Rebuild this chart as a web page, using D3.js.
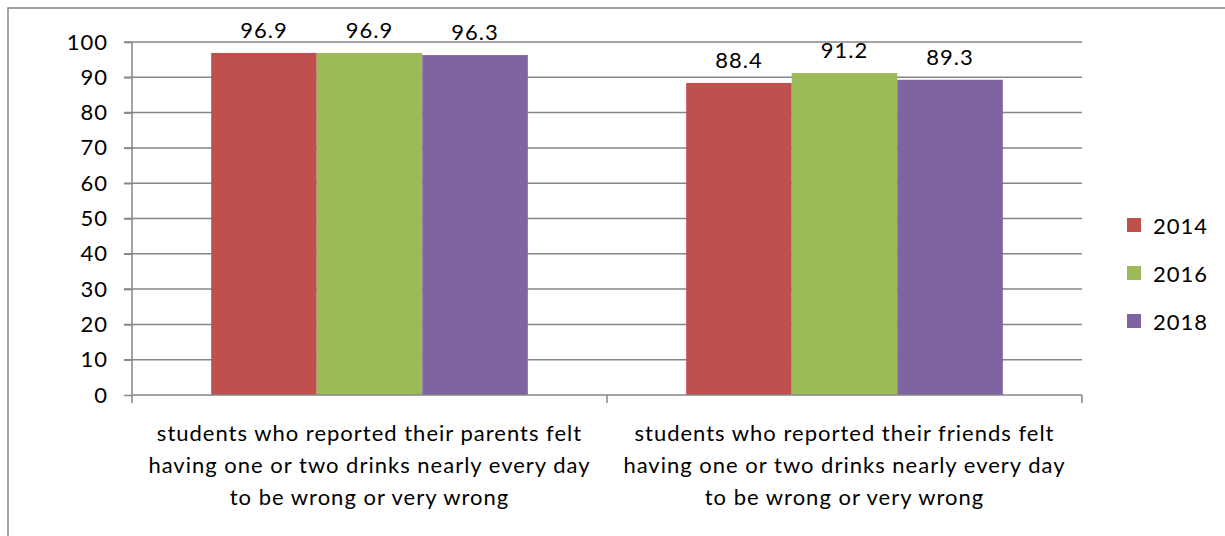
<!DOCTYPE html>
<html>
<head>
<meta charset="utf-8">
<script src="https://cdn.jsdelivr.net/npm/d3@7"></script>
<style>
  body { margin: 0; background: #fff; }
  text { font-family: Lato, "Open Sans", sans-serif; fill: #000; letter-spacing: 1px; }
</style>
</head>
<body>
<script>
// chart values
const categories = [
  ["students who reported their parents felt", "having one or two drinks nearly every day", "to be wrong or very wrong"],
  ["students who reported their friends felt", "having one or two drinks nearly every day", "to be wrong or very wrong"]
];
const years = ["2014", "2016", "2018"];
const values2014 = [96.9, 88.4];
const values2016 = [96.9, 91.2];
const values2018 = [96.3, 89.3];
const yTicks = [0, 10, 20, 30, 40, 50, 60, 70, 80, 90, 100];
const colors = ["#c0504d", "#9bbb59", "#8064a2"];

const width = 1225, height = 536;
const margin = {left: 132, right: 143, top: 42, bottom: 141};
const fontSize = 22;

const svg = d3.select("body").append("svg")
  .attr("width", width)
  .attr("height", height);

// outer chart border (runs off the right/bottom edges)
svg.append("rect")
  .attr("x", 8).attr("y", 8)
  .attr("width", width + 20).attr("height", height + 20)
  .attr("fill", "none")
  .attr("stroke", "#868686")
  .attr("stroke-width", 1.5);

const x0 = d3.scaleBand()
  .domain(d3.range(categories.length))
  .range([margin.left, width - margin.right]);

const x1 = d3.scaleBand()
  .domain(years)
  .range([0, x0.bandwidth()])
  .paddingOuter(0.75);

const y = d3.scaleLinear()
  .domain([0, 100])
  .range([height - margin.bottom, margin.top]);

// gridlines
svg.append("g")
  .selectAll("line")
  .data(yTicks.filter(d => d > 0))
  .join("line")
  .attr("x1", margin.left - 8)
  .attr("x2", width - margin.right)
  .attr("y1", d => y(d))
  .attr("y2", d => y(d))
  .attr("stroke", "#868686")
  .attr("stroke-width", 1.5);

// y axis
const yAxis = svg.append("g")
  .attr("transform", `translate(${margin.left},0)`)
  .call(d3.axisLeft(y).tickValues(yTicks).tickSize(8).tickPadding(16));
yAxis.selectAll("path, line").attr("stroke", "#868686").attr("stroke-width", 1.5);
yAxis.select(".domain").attr("d", `M0,${y(100)}V${y(0)}`);
yAxis.selectAll("text")
  .attr("font-family", "Lato, sans-serif")
  .attr("font-size", fontSize)
  .attr("fill", "#000");

// bars
const series = [values2014, values2016, values2018];
const groups = svg.append("g")
  .selectAll("g")
  .data(categories.map((c, i) => ({i, vals: series.map((s, k) => ({year: years[k], v: s[i], k}))})))
  .join("g")
  .attr("transform", d => `translate(${x0(d.i)},0)`);

groups.selectAll("rect")
  .data(d => d.vals)
  .join("rect")
  .attr("x", d => x1(d.year))
  .attr("width", x1.bandwidth())
  .attr("y", d => y(d.v))
  .attr("height", d => y(0) - y(d.v))
  .attr("fill", d => colors[d.k]);

groups.selectAll("text.val")
  .data(d => d.vals)
  .join("text")
  .attr("class", "val")
  .attr("x", d => x1(d.year) + x1.bandwidth() / 2)
  .attr("y", d => y(d.v) - 15)
  .attr("text-anchor", "middle")
  .attr("font-size", fontSize)
  .text(d => d.v.toFixed(1));

// x axis
const xAxisG = svg.append("g")
  .attr("transform", `translate(0,${y(0)})`);
xAxisG.append("line")
  .attr("x1", margin.left).attr("x2", width - margin.right)
  .attr("stroke", "#868686").attr("stroke-width", 1.5);
const xTicks = [margin.left, ...x0.domain().map(i => x0(i) + x0.bandwidth())];
xAxisG.selectAll("line.tick")
  .data(xTicks)
  .join("line")
  .attr("class", "tick")
  .attr("x1", d => d).attr("x2", d => d)
  .attr("y1", 0).attr("y2", 8)
  .attr("stroke", "#868686").attr("stroke-width", 1.5);

const catLabels = xAxisG.selectAll("text.cat")
  .data(categories)
  .join("text")
  .attr("class", "cat")
  .attr("text-anchor", "middle")
  .attr("font-size", fontSize);
catLabels.selectAll("tspan")
  .data((d, i) => d.map(line => ({line, i})))
  .join("tspan")
  .attr("x", d => x0(d.i) + x0.bandwidth() / 2)
  .attr("y", (d, j) => 46 + j * 32)
  .text(d => d.line);

// legend
const legend = svg.append("g")
  .attr("transform", "translate(1127,218)");
const item = legend.selectAll("g")
  .data(years)
  .join("g")
  .attr("transform", (d, i) => `translate(0,${i * 48})`);
item.append("rect")
  .attr("width", 14).attr("height", 14)
  .attr("fill", (d, i) => colors[i]);
item.append("text")
  .attr("x", 26).attr("y", 16)
  .attr("font-size", fontSize)
  .text(d => d);
</script>
</body>
</html>
